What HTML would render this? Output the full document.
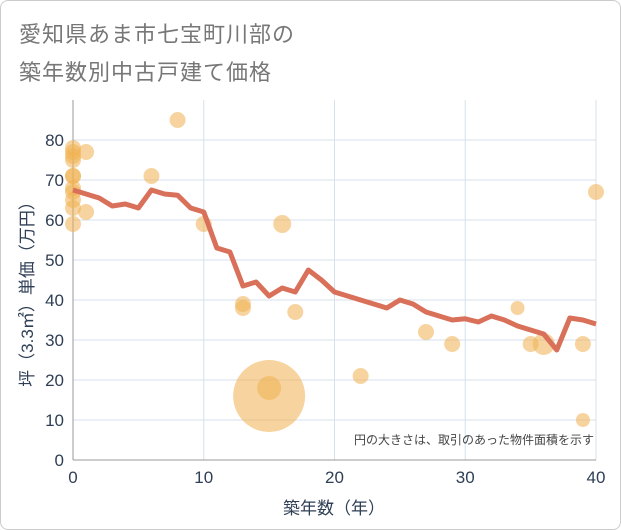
<!DOCTYPE html>
<html><head><meta charset="utf-8"><style>
body{margin:0;background:#fff;font-family:"Liberation Sans","Noto Sans CJK JP",sans-serif;}
#wrap{position:relative;width:619px;height:528px;border:1px solid #ccc;border-radius:8px;overflow:hidden;background:#fff}
.t{position:absolute;left:18px;font-size:22px;color:#777;letter-spacing:1px}
</style></head><body>
<div id="wrap">
<div class="t" style="top:16px">愛知県あま市七宝町川部の</div>
<div class="t" style="top:54px">築年数別中古戸建て価格</div>
<svg id="c" width="621" height="530" style="position:absolute;left:-1px;top:-1px"></svg>
</div>
<script>
const lineYears=[0,1,2,3,4,5,6,7,8,9,10,11,12,13,14,15,16,17,18,19,20,21,22,23,24,25,26,27,28,29,30,31,32,33,34,35,36,37,38,39,40];
const lineValues=[67.5,66.5,65.5,63.5,64,63,67.5,66.5,66.2,63,62,53,52,43.5,44.5,41,43,42,47.5,45,42,41,40,39,38,40,39,37,36,35,35.3,34.5,36,35,33.5,32.5,31.5,27.5,35.5,35,34];
const ptYears=[0,0,0,0,0,0,0,0,0,0,0,1,1,6,8,10,13,13,15,15,16,17,22,27,29,34,35,36,39,39,40];
const ptValues=[78,77,76,75,71,71,68,67,65,63,59,77,62,71,85,59,39,38,16,18,59,37,21,32,29,38,29,29,29,10,67];
const ptSizes=[8,8,8,8,8,8,8,8,8,8,8,8,8,8,8,8,8,8,36,12,9,8,8,8,8,7,8,11,8,7,8];
const xTicks=[0,10,20,30,40];
const yTicks=[0,10,20,30,40,50,60,70,80];
const NS="http://www.w3.org/2000/svg";
const svg=document.getElementById('c');
const X=v=>73+v*(596-73)/40, Y=v=>460-v*4;
function mk(t,a){const e=document.createElementNS(NS,t);for(const k in a)e.setAttribute(k,a[k]);svg.appendChild(e);return e;}
for(const v of yTicks){const g=mk('line',{x1:73,x2:596,y1:Y(v),y2:Y(v),stroke:'#d5e0ec','stroke-width':1});


const t=mk('text',{x:64,y:Y(v)+6,'text-anchor':'end','font-size':17,fill:'#2f3f55'});t.textContent=v;

}
for(const v of xTicks){const g=mk('line',{x1:X(v),x2:X(v),y1:100,y2:460,stroke:'#d5e0ec','stroke-width':1});


const t=mk('text',{x:X(v),y:483,'text-anchor':'middle','font-size':17,fill:'#2f3f55'});t.textContent=v;

}
const ax=mk('line',{x1:73,x2:73,y1:100,y2:460,stroke:'#999'});


const ax2=mk('line',{x1:73,x2:596,y1:460,y2:460,stroke:'#999'});


ptYears.forEach((yr,i)=>{const c=mk('circle',{cx:X(yr),cy:Y(ptValues[i]),r:ptSizes[i],fill:'rgba(240,176,80,0.55)'});

});
const p=mk('polyline',{points:lineYears.map((yr,i)=>X(yr)+','+Y(lineValues[i])).join(' '),fill:'none',stroke:'#d9705a','stroke-width':5,'stroke-linejoin':'round'});


const n=mk('text',{x:594,y:444,'text-anchor':'end','font-size':12,fill:'#444'});n.textContent='円の大きさは、取引のあった物件面積を示す';


const xt=mk('text',{x:334,y:514,'text-anchor':'middle','font-size':17,fill:'#2f3f55'});xt.textContent='築年数（年）';


const yt=mk('text',{x:0,y:0,'text-anchor':'middle','font-size':17,fill:'#2f3f55',transform:'translate(33,290) rotate(-90)'});yt.textContent='坪（3.3㎡）単価（万円）';


</script>
</body></html>
